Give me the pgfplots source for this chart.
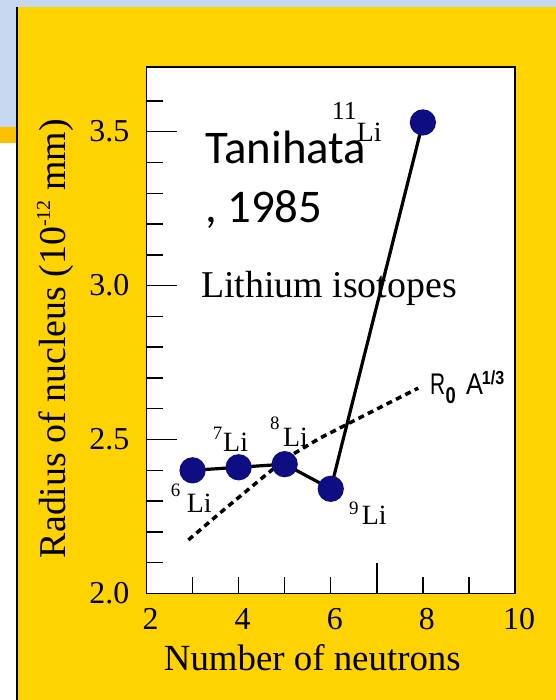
\documentclass[border=0pt]{standalone}
\usepackage{pgfplots}
\pgfplotsset{compat=1.18}
\usepackage{graphicx}
\usepackage{fontspec}
\setmainfont{Liberation Serif}
\newfontfamily\calibri{Carlito}
\newfontfamily\arial{Liberation Sans}

\definecolor{slideyellow}{RGB}{255,211,0}
\definecolor{slideblue}{RGB}{198,217,241}
\definecolor{slideorange}{RGB}{255,192,0}
\definecolor{navy}{RGB}{14,14,130}

\newcommand{\fs}[1]{\fontsize{#1}{#1}\selectfont}

\begin{document}
\begin{tikzpicture}[x=1bp,y=1bp]
\useasboundingbox (0,0) rectangle (556,700);
% slide background
\fill[white] (0,0) rectangle (556,700);
\fill[slideyellow] (17,0) rectangle (556,693);
\fill[slideblue] (0,693) rectangle (556,700);
\fill[slideblue] (0,573) rectangle (17,700);
\fill[slideorange] (0,557) rectangle (17,573);
\draw[line width=1.5bp] (17,0) -- (17,693);

\begin{axis}[
    at={(146.5bp,106.5bp)}, anchor=south west,
    scale only axis, width=368.5bp, height=526.5bp,
    xmin=2, xmax=10, ymin=2, ymax=3.71,
    clip=false,
    axis background/.style={fill=white},
    axis line style={line width=1.4bp},
    tick pos=left, tick align=inside,
    major tick length=30bp, minor tick length=16.5bp,
    every tick/.style={black, line width=1.4bp},
    xtick={2,4,6,8,10},
    major x tick style={draw=none},
    minor xtick={3,4,5,6,8,9},
    extra x ticks={7}, extra x tick labels={},
    extra x tick style={major x tick style={draw=black}},
    ytick={2,2.5,3,3.5},
    minor ytick={2.1,2.2,2.3,2.4,2.6,2.7,2.8,2.9,3.1,3.2,3.3,3.4,3.6},
    /pgf/number format/assume math mode=true,
    ticklabel style={font=\fs{32}, inner sep=0pt},
    yticklabel style={/pgf/number format/.cd, fixed, fixed zerofill, precision=1, /tikz/.cd, xshift=-17bp},
    xticklabel style={yshift=-14.5bp, xshift=4bp},
    xlabel={Number of neutrons},
    ylabel={Radius of nucleus (10\raisebox{15bp}{\fs{20}-12} mm)},
    label style={font=\fs{37}},
    xlabel style={at={(axis description cs:0.45,-0.147)}, anchor=base, inner sep=0pt},
    ylabel style={font=\fs{38}, at={(axis description cs:-0.221,0.484)}, anchor=base, inner sep=0pt},
]

% R0 A^(1/3) curve
\addplot[black, line width=3.5bp, dash pattern=on 6bp off 4.5bp] coordinates {
    (2.91, 2.174)
    (3.60, 2.262)
    (4.46, 2.369)
    (5.04, 2.440)
    (5.77, 2.505)
    (6.49, 2.560)
    (7.21, 2.615)
    (7.90, 2.667)
};

% lithium isotopes
\addplot[black, line width=3.2bp, mark=*, mark size=11.5bp,
    mark options={solid, fill=navy, draw=navy}] coordinates {
    (3, 2.40)
    (4, 2.41)
    (5, 2.42)
    (6, 2.34)
    (8, 3.53)
};

\node[anchor=base west, inner sep=0pt, font=\calibri\fs{47}] at (axis cs:3.27,3.398) {Tanihata};
\node[anchor=base west, inner sep=0pt, font=\calibri\fs{47}] at (axis cs:3.27,3.205) {, 1985};
\node[anchor=base west, inner sep=0pt, font=\fs{38}] at (axis cs:3.183,2.961) {Lithium isotopes};

\node[anchor=base west, inner sep=0pt, font=\fs{26}] at (axis cs:6.021,3.540) {11};
\node[anchor=base west, inner sep=0pt, font=\fs{28}] at (axis cs:6.564,3.469) {Li};

\node[anchor=base west, inner sep=0pt, font=\fs{19}] at (axis cs:2.525,2.314) {6};
\node[anchor=base west, inner sep=0pt, font=\fs{28}] at (axis cs:2.873,2.262) {Li};
\node[anchor=base west, inner sep=0pt, font=\fs{19}] at (axis cs:3.437,2.499) {7};
\node[anchor=base west, inner sep=0pt, font=\fs{28}] at (axis cs:3.661,2.461) {Li};
\node[anchor=base west, inner sep=0pt, font=\fs{19}] at (axis cs:4.681,2.532) {8};
\node[anchor=base west, inner sep=0pt, font=\fs{28}] at (axis cs:4.963,2.477) {Li};
\node[anchor=base west, inner sep=0pt, font=\fs{19}] at (axis cs:6.397,2.255) {9};
\node[anchor=base west, inner sep=0pt, font=\fs{28}] at (axis cs:6.672,2.223) {Li};

\node[anchor=base west, inner sep=0pt, font=\arial\fs{30}] at (axis cs:8.155,2.6455) {\scalebox{0.7}[1]{R}};
\node[anchor=base west, inner sep=0pt, font=\arial\bfseries\fs{23}] at (axis cs:8.49,2.6185) {\scalebox{0.8}[1]{0}};
\node[anchor=base west, inner sep=0pt, font=\arial\fs{30}] at (axis cs:8.937,2.6455) {\scalebox{0.85}[1]{A}};
\node[anchor=base west, inner sep=0pt, font=\arial\bfseries\fs{19}] at (axis cs:9.278,2.678) {\scalebox{0.85}[1]{1/3}};

\end{axis}
\end{tikzpicture}
\end{document}
